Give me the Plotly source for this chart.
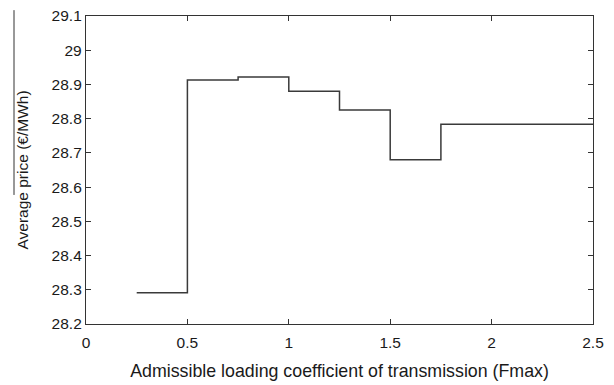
import plotly.graph_objects as go

# Data
fmax_edges = [0.25, 0.5, 0.75, 1.0, 1.25, 1.5, 1.75, 2.5]
avg_price = [28.291, 28.913, 28.922, 28.880, 28.825, 28.680, 28.784]

x_ticks = [0, 0.5, 1, 1.5, 2, 2.5]
x_tick_text = ["0", "0.5", "1", "1.5", "2", "2.5"]
y_ticks = [28.2, 28.3, 28.4, 28.5, 28.6, 28.7, 28.8, 28.9, 29.0, 29.1]
y_tick_text = ["28.2", "28.3", "28.4", "28.5", "28.6", "28.7", "28.8", "28.9", "29", "29.1"]

y_line = avg_price + [avg_price[-1]]

fig = go.Figure()
fig.add_trace(go.Scatter(
    x=fmax_edges, y=y_line, mode="lines", line_shape="hv",
    line=dict(color="#3a3a3a", width=1.5), showlegend=False,
))

font_family = "Liberation Sans, Arial, sans-serif"
fig.update_layout(
    width=614, height=385,
    margin=dict(l=86, r=21, t=16, b=61),
    plot_bgcolor="white", paper_bgcolor="white",
    font=dict(family=font_family, color="#1a1a1a", size=16),
    xaxis=dict(
        range=[0, 2.5], tickvals=x_ticks, ticktext=x_tick_text,
        ticks="inside", ticklen=5, tickcolor="#333333", tickwidth=1,
        showline=True, linecolor="#333333", linewidth=1.3, mirror="ticks",
        showgrid=False, zeroline=False, ticklabelstandoff=4, automargin=False,
        title=dict(text="Admissible loading coefficient of transmission (Fmax)",
                   font=dict(size=17.8), standoff=14),
        tickfont=dict(size=15.5),
    ),
    yaxis=dict(
        range=[28.2, 29.1], tickvals=y_ticks, ticktext=y_tick_text,
        ticks="inside", ticklen=5, tickcolor="#333333", tickwidth=1,
        showline=True, linecolor="#333333", linewidth=1.3, mirror="ticks",
        showgrid=False, zeroline=False, automargin=False,
        title=dict(text="Average price (€/MWh)", font=dict(size=15.5), standoff=19),
        tickfont=dict(size=15.5),
    ),
)

# thin vertical rule beside the y-axis title, as in the reference
fig.add_shape(type="line", xref="paper", yref="paper",
              x0=-0.142, x1=-0.142, y0=0.419, y1=1.019,
              line=dict(color="#333333", width=1))

fig.write_html("out.html")
